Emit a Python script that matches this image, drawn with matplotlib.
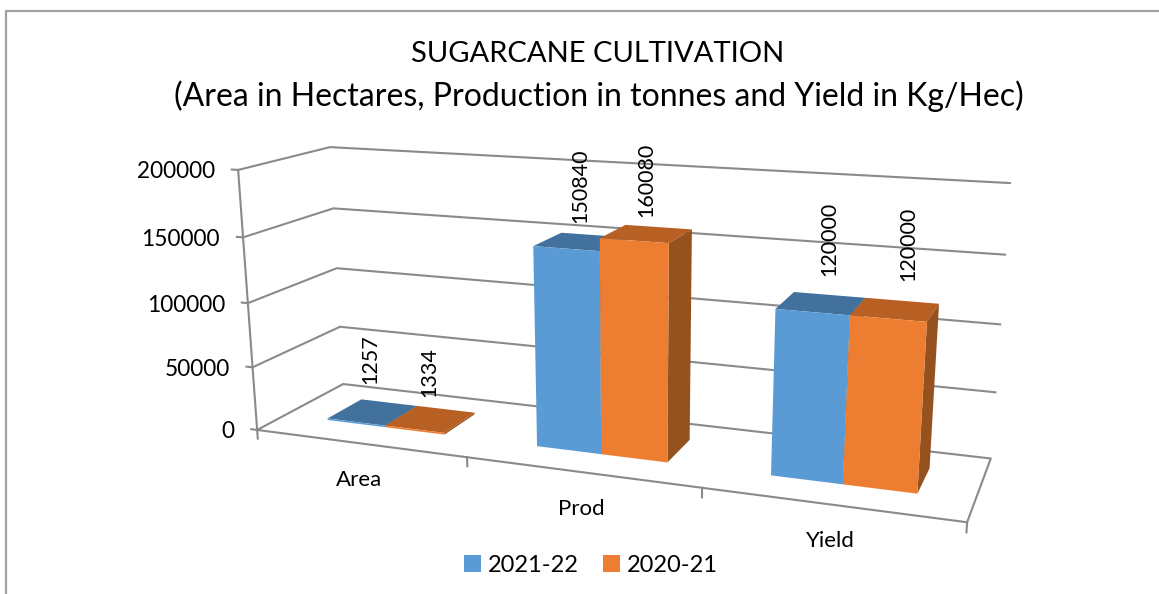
import numpy as np
import matplotlib
matplotlib.use("Agg")
import matplotlib.pyplot as plt
from matplotlib.lines import Line2D
from matplotlib.patches import Patch
from mpl_toolkits.mplot3d import proj3d

# ---- data ----
categories = ["Area", "Prod", "Yield"]
series_names = ["2021-22", "2020-21"]
values_2021_22 = [1257, 150840, 120000]
values_2020_21 = [1334, 160080, 120000]
y_ticks = [0, 50000, 100000, 150000, 200000]

# ---- style ----
W, H = 1159, 594
plt.rcParams["font.family"] = ["Lato", "DejaVu Sans"]
GRID = "#8a8a8a"
FACE = ["#5B9BD5", "#ED7D31"]
TOP = ["#41719C", "#B85F23"]
SIDE = ["#3A6A94", "#96521E"]
CLEAR = (0, 0, 0, 0)
Y_FRONT, Y_BACK = 0.31, 0.72
GAP, BAR_W = 0.214, 0.2857
LABEL_DX = [[-3, 0, 8], [-1, 0, 13]]
LABEL_DY = [[28, 19, 27], [22, 17, 28]]

fig = plt.figure(figsize=(W / 100, H / 100), dpi=100, facecolor="white")
ax = fig.add_axes([0, (H - W) / 2 / H, 1, W / H], projection="3d")
ax.set_axis_off()
ax.patch.set_visible(False)
ax.set_proj_type("ortho")
ZMAX = y_ticks[-1]

# ---- camera: calibrated on the chart box corners (x, y, z/zmax) -> pixels ----
calib = [
    (0, 0, 1, 238, 170), (0, 0, .75, 243, 237), (0, 0, .5, 248, 303), (0, 0, .25, 253, 367), (0, 0, 0, 257, 429),
    (0, 1, 1, 330, 147), (0, 1, .75, 333, 209), (0, 1, .5, 337, 268), (0, 1, .25, 340, 327), (0, 1, 0, 343, 384),
    (3, 1, 1, 1010, 183), (3, 1, .75, 1005, 255), (3, 1, .5, 1000, 324), (3, 1, 0, 991, 458),
    (3, 0, 0, 967, 521), (1, 0, 0, 467, 458), (2, 0, 0, 702, 490),
]
A, rhs = [], []
for x, y, z, u, v in calib:
    A.append([x, y, z, 1, 0, 0, 0, 0, -u * x, -u * y, -u * z]); rhs.append(u)
    A.append([0, 0, 0, 0, x, y, z, 1, -v * x, -v * y, -v * z]); rhs.append(v)
p = np.linalg.lstsq(np.array(A, float), np.array(rhs, float), rcond=None)[0]
P = np.array([[p[0], p[1], p[2] / ZMAX, p[3]],
              [p[4], p[5], p[6] / ZMAX, p[7]],
              [0, 1, 0, 0],
              [p[8], p[9], p[10] / ZMAX, 1.0]])
vl = ax.viewLim.frozen()
# pixel -> 2D view coordinates of the (square) axes
N = np.array([[(vl.x1 - vl.x0) / W, 0, 0, vl.x0],
              [0, -(vl.y1 - vl.y0) / W, 0, vl.y0 + (vl.y1 - vl.y0) * (H + (W - H) / 2) / W],
              [0, 0, 1, 0],
              [0, 0, 0, 1]])
M = N @ P
ax.get_proj = lambda: M
ax.computed_zorder = False


def at(x, y, z):
    u, v, _ = proj3d.proj_transform(x, y, z, M)
    return float(u), float(v)


def line(xs, ys, zs, lw=1.5, z=1):
    ax.plot(xs, ys, zs, color=GRID, lw=lw, zorder=z, solid_capstyle="projecting")


n = len(categories)
for t in y_ticks:
    if t > 0:
        line([n, 0, 0], [1, 1, 0], [t, t, t])
    line([-0.03, 0], [0, 0], [t, t])
    ax.annotate(f"{t}", xy=at(0, 0, t), xytext=(-23, -2), textcoords="offset pixels",
                ha="right", va="center", fontsize=16.3, color="#000000")
line([0, 0], [0, 0], [0, ZMAX])
line([0, n, n, 0, 0], [0, 0, 1, 1, 0], [0, 0, 0, 0, 0])
for i in range(n + 1):
    line([i, i], [0, 0], [0, -ZMAX * 0.035])
for i, c in enumerate(categories):
    ax.annotate(c, xy=at(i + 0.5, 0, 0), xytext=(0, -37), textcoords="offset pixels",
                ha="center", va="center", fontsize=16, color="#000000")

# ---- bars: -z, +z, -y, +y, -x, +x ----
z = 5
for s, vals in enumerate([values_2021_22, values_2020_21]):
    for i, val in enumerate(vals):
        x0 = i + GAP + s * BAR_W
        ax.bar3d(x0, Y_FRONT, 0, BAR_W, Y_BACK - Y_FRONT, val, shade=False,
                 color=[CLEAR, TOP[s], FACE[s], CLEAR, CLEAR, SIDE[s]],
                 edgecolor="none", linewidth=0, zorder=z + i * 2 + s)
        ax.annotate(f"{val}", xy=at(x0 + BAR_W / 2, (Y_FRONT + Y_BACK) / 2, val),
                    xytext=(LABEL_DX[s][i], LABEL_DY[s][i]), textcoords="offset pixels",
                    rotation=90, ha="center", va="bottom", fontsize=15.5, color="#000000", zorder=30)

# ---- chart frame, title, legend ----
fig.add_artist(Line2D([5.5 / W, 5.5 / W, 1], [0, 1 - 11 / H, 1 - 11 / H], color="#a0a0a0", lw=1.6))
fig.text(598 / W, 1 - 54 / H, "SUGARCANE CULTIVATION", ha="center", va="center", fontsize=21, color="#000000")
fig.text(599 / W, 1 - 96 / H, "(Area in Hectares, Production in tonnes and Yield in Kg/Hec)",
         ha="center", va="center", fontsize=23, color="#000000")
handles = [Patch(facecolor=FACE[0]), Patch(facecolor=FACE[1])]
fig.legend(handles, series_names, ncol=2, loc="center", bbox_to_anchor=(591 / W, 1 - 565 / H), frameon=False,
           fontsize=17, handlelength=0.72, handleheight=0.72, handletextpad=0.3, columnspacing=1.0,
           labelcolor="#000000", borderpad=0)
fig.savefig("out.png", dpi=100)
